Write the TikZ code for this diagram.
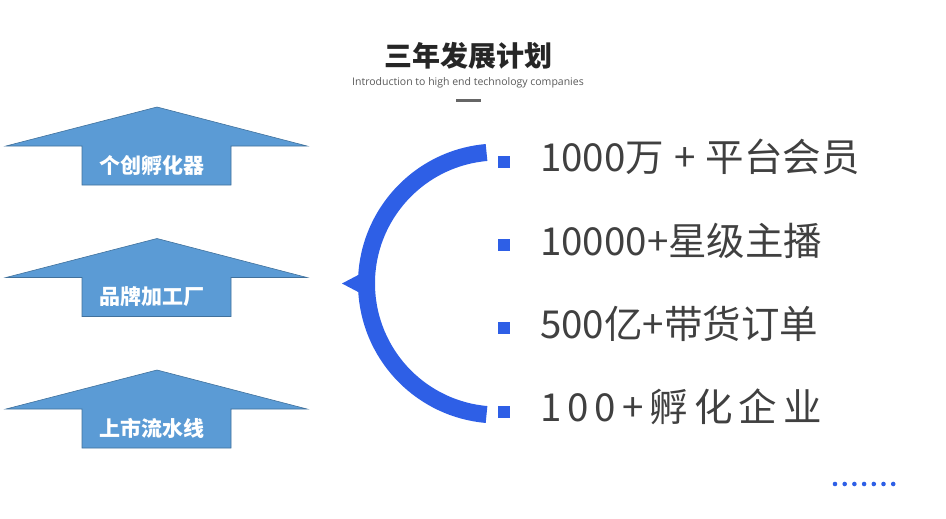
\documentclass[tikz,border=0pt]{standalone}
\usepackage{fontspec}
\usepackage{xcolor}
\usepackage{tikz}
\usetikzlibrary{positioning,calc}
\newfontfamily\cjk{Noto Sans CJK SC}
\newfontfamily\subfont{Open Sans}
\definecolor{arrowblue}{HTML}{5B9BD5}
\definecolor{arrowedge}{HTML}{41719C}
\definecolor{arcblue}{HTML}{2E5FE6}
\definecolor{textgray}{HTML}{404040}

\begin{document}
\begin{tikzpicture}[x=1pt, y=-1pt,
  arrowlabel/.style={text=white, font=\cjk\bfseries\fontsize{21}{21}\selectfont},
  goal/.style={anchor=west, text=textgray, inner sep=0pt, font=\cjk\fontsize{38.5}{38.5}\selectfont},
  bullet/.style={fill=arcblue, minimum size=12pt, inner sep=0pt}]
\useasboundingbox (0,0) rectangle (946,519);
% title
\node[font=\cjk\bfseries\fontsize{28}{28}\selectfont, text=black!85] (title) at (468,56) {三年发展计划};
\node[font=\subfont\fontsize{10.5}{10.5}\selectfont, text=black!65] (subtitle) at (468,83) {Introduction to high end technology companies};
\draw[line width=3pt, black!60] (456,101) -- (481,101);
% three arrows
\foreach \y/\name/\txt in {107/up1/个创孵化器, 238.5/up2/品牌加工厂, 370/up3/上市流水线} {
  \draw[fill=arrowblue, draw=arrowedge, line width=0.6pt]
    (6,\y+39) -- (157,\y) -- (307,\y+39) -- (231,\y+39) -- (231,\y+78) -- (82,\y+78) -- (82,\y+39) -- cycle;
  \node[arrowlabel] (\name) at (152,\y+58.5) {\txt};
}
% bracket
\draw[arcblue, line width=17pt] (498,283.5) ++(-95:131.5) arc[start angle=-95, end angle=-265, radius=131.5];
\fill[arcblue] (342,283.5) -- (362,273) -- (362,294) -- cycle;
% goals
\node[bullet] (b1) at (504,162) {};
\node[bullet] (b2) at (504,245) {};
\node[bullet] (b3) at (504,328) {};
\node[bullet] (b4) at (504,412) {};
\node[goal] (g1) at (540,157) {1000万\hspace{10pt}+\hspace{10pt}平台会员};
\node[goal] (g2) at (540,241) {10000+星级主播};
\node[goal] (g3) at (540,324) {500亿+带货订单};
\node[goal] (g4) at (540,407) {1\hspace{6pt}0\hspace{6pt}0\hspace{6pt}+\hspace{6pt}孵\hspace{6pt}化\hspace{6pt}企\hspace{6pt}业};
% dots
\foreach \i in {0,...,6}
  \fill[arcblue] (835+\i*9.7,484) circle (2.3);
\end{tikzpicture}
\end{document}
